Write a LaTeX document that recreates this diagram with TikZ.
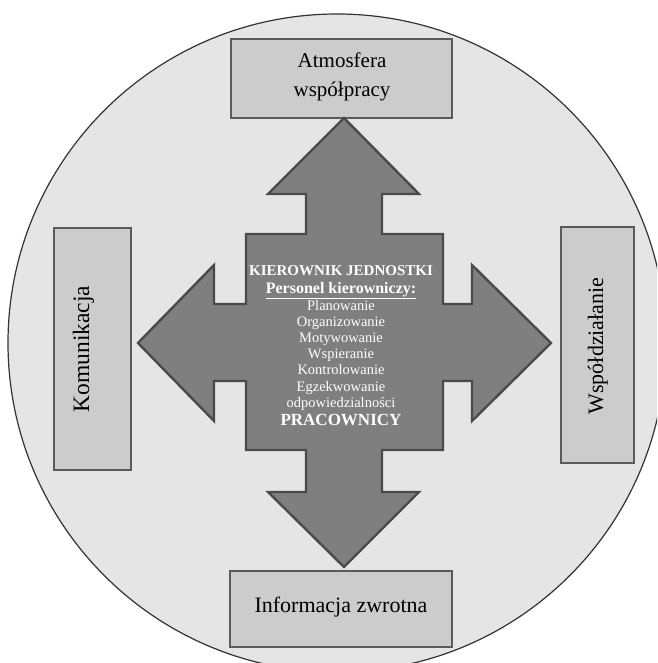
\documentclass[tikz,border=0pt]{standalone}
\usepackage{fontspec}
\setmainfont{Liberation Serif}
\definecolor{circfill}{HTML}{E5E5E5}
\definecolor{circline}{HTML}{333333}
\definecolor{boxfill}{HTML}{CCCCCC}
\definecolor{boxline}{HTML}{5A5A5A}
\definecolor{arrfill}{HTML}{7F7F7F}
\definecolor{arrline}{HTML}{4A4A4A}
\begin{document}
\begin{tikzpicture}[x=1pt,y=-1pt,
  box/.style={draw=boxline, fill=boxfill, line width=1.4pt, inner sep=0pt},
  boxtext/.style={anchor=base, inner sep=0pt, text=black},
  ctext/.style={anchor=base, inner sep=0pt, text=white},
  arrowshape/.style={draw=arrline, fill=arrfill, line width=2.4pt, line join=miter}]
\useasboundingbox (0,0) rectangle (657,663);
\begin{scope}
\clip (0,0) rectangle (657,663);
\draw[circline, fill=circfill, line width=1.2pt] (337,343) circle[radius=329];
\end{scope}
% boxes
\node[box, minimum width=221, minimum height=79] (atm) at (341.5,78.5) {};
\node[box, minimum width=77, minimum height=242] (kom) at (92.5,349) {};
\node[box, minimum width=73, minimum height=236] (wsp) at (597.5,345) {};
\node[box, minimum width=222, minimum height=76] (info) at (341,609) {};
% box texts
\node[boxtext, font=\fontsize{21}{25}\selectfont] (atm1) at (342,68) {Atmosfera};
\node[boxtext, font=\fontsize{21}{25}\selectfont] (atm2) at (342,97) {współpracy};
\node[boxtext, font=\fontsize{23.5}{28}\selectfont, rotate=90] (komt) at (89,349) {Komunikacja};
\node[boxtext, font=\fontsize{22}{26}\selectfont, rotate=90] (wspt) at (603,346) {Współdziałanie};
\node[boxtext, font=\fontsize{22}{26}\selectfont] (infot) at (341,612) {Informacja zwrotna};
% four-way arrow
\draw[arrowshape] (344,118) -- (419,194) -- (382,194) -- (382,234) -- (443,234)
  -- (443,304) -- (472,304) -- (472,265) -- (551,343) -- (472,421) -- (472,381)
  -- (443,381) -- (443,450) -- (382,450) -- (382,492) -- (419,492) -- (344,567)
  -- (268,492) -- (306,492) -- (306,450) -- (246,450) -- (246,381) -- (214,381)
  -- (214,421) -- (138,343) -- (214,265) -- (214,304) -- (246,304) -- (246,234)
  -- (306,234) -- (306,194) -- (268,194) -- cycle;
% centre texts
\node[ctext, font=\fontsize{15}{17}\selectfont\bfseries] (c1) at (341,275) {KIEROWNIK JEDNOSTKI};
\node[ctext, font=\fontsize{16}{18}\selectfont\bfseries] (c2) at (341,293) {\underline{Personel kierowniczy:}};
\node[ctext, font=\fontsize{14.5}{16}\selectfont] (c3) at (341,310) {Planowanie};
\node[ctext, font=\fontsize{14.5}{16}\selectfont] (c4) at (341,326) {Organizowanie};
\node[ctext, font=\fontsize{14.5}{16}\selectfont] (c5) at (341,342) {Motywowanie};
\node[ctext, font=\fontsize{14.5}{16}\selectfont] (c6) at (341,358) {Wspieranie};
\node[ctext, font=\fontsize{14.5}{16}\selectfont] (c7) at (341,374) {Kontrolowanie};
\node[ctext, font=\fontsize{14.5}{16}\selectfont] (c8) at (341,391) {Egzekwowanie};
\node[ctext, font=\fontsize{14.5}{16}\selectfont] (c9) at (341,407) {odpowiedzialności};
\node[ctext, font=\fontsize{17}{19}\selectfont\bfseries] (c10) at (341,425) {PRACOWNICY};
\end{tikzpicture}
\end{document}
